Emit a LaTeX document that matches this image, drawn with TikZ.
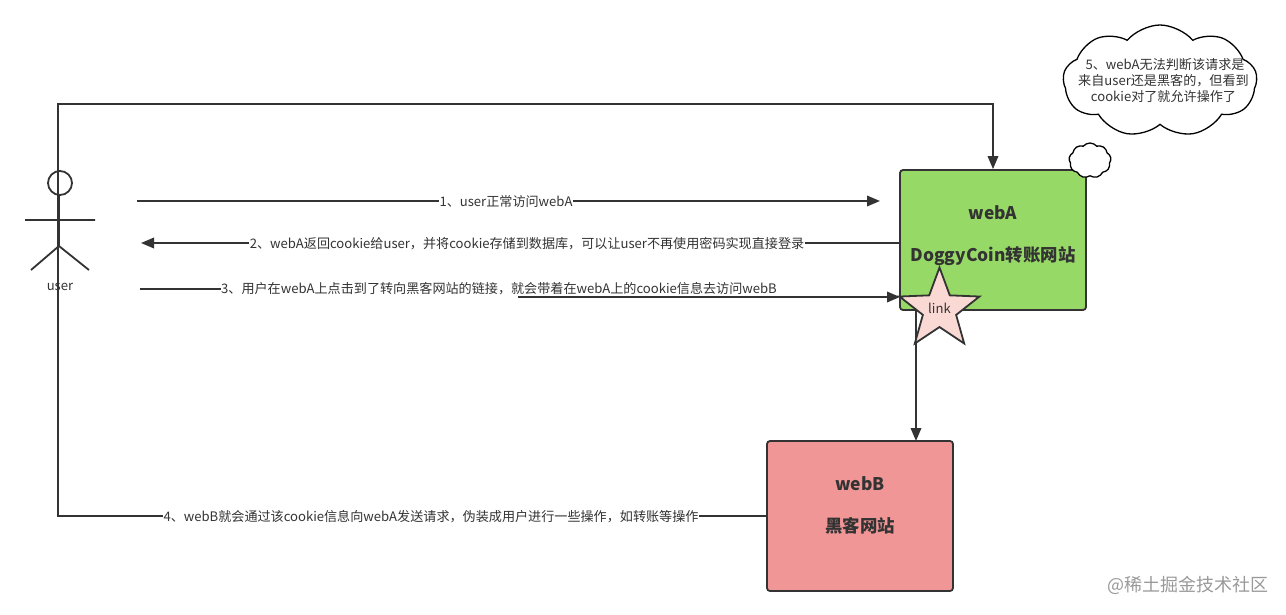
\documentclass[tikz,border=0pt]{standalone}
\usepackage{fontspec,xcolor}
\setmainfont{Noto Sans CJK SC}
\definecolor{inkgray}{RGB}{51,51,51}
\definecolor{webagreen}{RGB}{151,217,103}
\definecolor{webbred}{RGB}{241,150,150}
\definecolor{starpink}{RGB}{250,217,213}
\usetikzlibrary{arrows.meta,positioning,shapes.geometric,shapes.symbols}

\begin{document}
\begin{tikzpicture}[x=1pt,y=-1pt,font=\fontsize{13.1}{17}\selectfont,text=inkgray,
  flow/.style={draw=inkgray,line width=1.8pt,-{Triangle[length=13pt,width=10.5pt]}},
  plainflow/.style={draw=inkgray,line width=1.8pt},
  steplabel/.style={fill=white,inner sep=0.5pt},
  sitebox/.style={draw=inkgray,line width=1.8pt,rounded corners=3pt,minimum width=186pt,align=center,font=\fontsize{17.4}{42}\selectfont\bfseries},
  bubble/.style={draw=black,line width=1.3pt,fill=white,cloud,cloud puffs=9,cloud puff arc=100,aspect=1.7,inner sep=0pt}]
  \useasboundingbox (0,0) rectangle (1286,614);
  % sites
  \node[sitebox,fill=webagreen,minimum height=140pt] (webA) at (993,240) {webA\\DoggyCoin转账网站\\[-29pt]\mbox{}};
  \node[sitebox,fill=webbred,minimum height=150pt] (webB) at (860,516) {webB\\黑客网站\\[-19pt]\mbox{}};
  % free ends near the user
  \coordinate (userA) at (137,201);
  \coordinate (webAa) at (880,201);
  \coordinate (userB) at (141,243);
  \coordinate (userC) at (140,289);
  \coordinate (bendC) at (519,297);
  \coordinate (webAc) at (900,297);
  \coordinate (cornerL) at (58,516);
  \coordinate (cornerT) at (58,104);
  \coordinate (linkpos) at (939.5,309.5);
  \coordinate (webBin) at (916,441);
  % long way back to webA
  \draw[flow] (webB.west) -- (cornerL) -- (cornerT) -| (webA.north);
  \node[steplabel] (stepfour) at (431,516.5) {4、webB就会通过该cookie信息向webA发送请求，伪装成用户进行一些操作，如转账等操作};
  % requests
  \draw[flow] (userA) -- (webAa);
  \node[steplabel] (stepone) at (506,201.5) {1、user正常访问webA};
  \draw[flow] (webA.west |- userB) -- (userB);
  \node[steplabel] (steptwo) at (527,243.5) {2、webA返回cookie给user，并将cookie存储到数据库，可以让user不再使用密码实现直接登录};
  \draw[flow] (userC) -- (bendC |- userC) -- (bendC) -- (webAc);
  \node[steplabel,inner sep=0pt,minimum height=15pt] (stepthree) at (499,288.5) {3、用户在webA上点击到了转向黑客网站的链接，就会带着在webA上的cookie信息去访问webB};
  \draw[flow] (linkpos -| webBin) -- (webBin);
  \node[draw=inkgray,fill=starpink,line width=1.8pt,star,star points=5,star point ratio=2.4,minimum size=84pt,inner sep=0pt] (link) at (linkpos) {};
  \node (linktext) at (939.5,308) {link};
  % user
  \node[draw=inkgray,line width=1.8pt,circle,minimum size=24pt,inner sep=0pt] (head) at (60,183) {};
  \coordinate (hip) at (59,246);
  \coordinate (armL) at (25,220);
  \coordinate (armR) at (95,220);
  \coordinate (legL) at (31,270);
  \coordinate (legR) at (89,270);
  \draw[plainflow] (head.south -| hip) -- (hip) (armL) -- (armR) (legL) -- (hip) -- (legR);
  \node (user) at (60,287) {user};
  % clouds
  \node[bubble,minimum width=194pt,minimum height=112pt] (note) at (1160,81) {};
  \node[align=center,font=\fontsize{13.1}{16}\selectfont] (notetext) at (1163.5,81) {\ 5、webA无法判断该请求是\\来自user还是黑客的，但看到\\cookie对了就允许操作了};
  \node[bubble,minimum width=42pt,minimum height=35pt,aspect=1.2] (puff) at (1090,160.5) {};
  % watermark
  \node[text=black!40,font=\fontsize{18}{20}\selectfont] (mark) at (1188,585) {@稀土掘金技术社区};
\end{tikzpicture}
\end{document}
